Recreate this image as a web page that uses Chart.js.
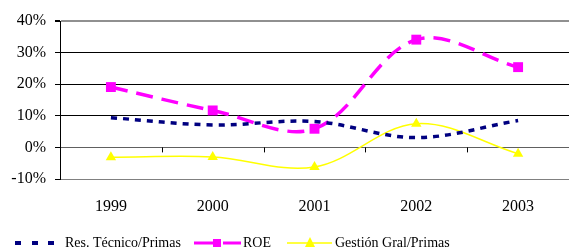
<!DOCTYPE html>
<html>
<head>
<meta charset="utf-8">
<script src="https://cdn.jsdelivr.net/npm/chart.js@4/dist/chart.umd.min.js"></script>
<style>
  html, body { margin: 0; padding: 0; background: #fff; }
  #wrap { width: 569px; height: 251px; position: relative; }
</style>
</head>
<body>
<div id="wrap"><canvas id="grafico"></canvas></div>
<script>
const anios = ["1999", "2000", "2001", "2002", "2003"];
const resTecnico = [0.094, 0.071, 0.082, 0.031, 0.085];
const roe = [0.191, 0.117, 0.059, 0.341, 0.254];
const gestion = [-0.031, -0.030, -0.062, 0.075, -0.020];
const nombres = ["Res. Técnico/Primas", "ROE", "Gestión Gral/Primas"];

const fuente = "'Liberation Serif', 'Times New Roman', serif";

// marcas del eje x sobre la linea del 0%
const marcasX = {
  id: "marcasX",
  afterDatasetsDraw(chart) {
    const { ctx, scales: { x, y } } = chart;
    const y0 = y.getPixelForValue(0);
    ctx.save();
    ctx.strokeStyle = "#000";
    ctx.lineWidth = 1;
    for (let i = 1; i < anios.length; i++) {
      const px = Math.round((x.getPixelForValue(i - 1) + x.getPixelForValue(i)) / 2) + 0.5;
      ctx.beginPath();
      ctx.moveTo(px, y0);
      ctx.lineTo(px, y0 + 5);
      ctx.stroke();
    }
    ctx.restore();
  }
};

// leyenda dibujada abajo
const leyenda = {
  id: "leyenda",
  afterDraw(chart) {
    const ctx = chart.ctx;
    const yl = 243;
    ctx.save();
    ctx.font = "14px " + fuente;
    ctx.fillStyle = "#000";
    ctx.textBaseline = "middle";

    // Res. Tecnico
    ctx.fillStyle = "#000080";
    [15, 32, 48].forEach(px => ctx.fillRect(px, yl - 2, 6, 4));
    ctx.fillStyle = "#000";
    ctx.fillText(nombres[0], 65, yl);

    // ROE
    ctx.strokeStyle = "#FF00FF";
    ctx.lineWidth = 3;
    ctx.beginPath();
    ctx.moveTo(194, yl);
    ctx.lineTo(241, yl);
    ctx.stroke();
    ctx.fillStyle = "#FF00FF";
    ctx.fillRect(213, yl - 4, 8, 8);
    ctx.fillStyle = "#fff";
    ctx.fillRect(221, yl - 2, 2, 4);
    ctx.fillStyle = "#000";
    ctx.fillText(nombres[1], 243, yl);

    // Gestion
    ctx.strokeStyle = "#FFFF00";
    ctx.lineWidth = 1.5;
    ctx.beginPath();
    ctx.moveTo(287, yl);
    ctx.lineTo(332, yl);
    ctx.stroke();
    ctx.fillStyle = "#FFFF00";
    ctx.beginPath();
    ctx.moveTo(310, yl - 6);
    ctx.lineTo(315, yl + 4);
    ctx.lineTo(305, yl + 4);
    ctx.closePath();
    ctx.fill();
    ctx.fillStyle = "#000";
    ctx.fillText(nombres[2], 335, yl);
    ctx.restore();
  }
};

new Chart(document.getElementById("grafico"), {
  type: "line",
  data: {
    labels: anios,
    datasets: [
      {
        label: nombres[0],
        data: resTecnico,
        borderColor: "#000080",
        borderWidth: 3.5,
        borderDash: [6, 6],
        pointRadius: 0,
        tension: 0.35,
        fill: false
      },
      {
        label: nombres[1],
        data: roe,
        borderColor: "#FF00FF",
        backgroundColor: "#FF00FF",
        borderWidth: 3.5,
        borderDash: [17, 9],
        pointStyle: "rect",
        pointRadius: 7,
        pointBorderWidth: 0,
        tension: 0.35,
        fill: false
      },
      {
        label: nombres[2],
        data: gestion,
        borderColor: "#FFFF00",
        backgroundColor: "#FFFF00",
        borderWidth: 1.5,
        pointStyle: "triangle",
        pointRadius: 6,
        pointBorderWidth: 0,
        tension: 0.35,
        fill: false
      }
    ]
  },
  options: {
    responsive: true,
    maintainAspectRatio: false,
    animation: false,
    layout: { autoPadding: false, padding: { top: 21, right: -2, bottom: 0, left: 0 } },
    plugins: {
      legend: { display: false },
      tooltip: { enabled: false }
    },
    scales: {
      x: {
        offset: true,
        grid: { display: false, drawTicks: false, offset: true },
        border: { display: true, color: "#808080", width: 1 },
        ticks: { color: "#000", font: { family: fuente, size: 16 }, padding: 18 },
        afterFit: s => { s.height = 72; }
      },
      y: {
        min: -0.1,
        max: 0.4,
        ticks: {
          stepSize: 0.1,
          color: "#000",
          padding: 9,
          font: { family: fuente, size: 16 },
          callback: v => Math.round(v * 100) + "%"
        },
        grid: {
          tickLength: 5,
          tickColor: "#000",
          lineWidth: c => (Math.round(c.tick.value * 100) === 40 ? 2 : 1),
          color: c => {
            const v = Math.round(c.tick.value * 100);
            if (v === 0) return "#606060";
            if (v === -10 || v === 40) return "#909090";
            return "#000";
          }
        },
        border: { display: true, color: "#000", width: 1 },
        afterFit: s => { s.width = 60; }
      }
    }
  },
  plugins: [marcasX, leyenda]
});
</script>
</body>
</html>
